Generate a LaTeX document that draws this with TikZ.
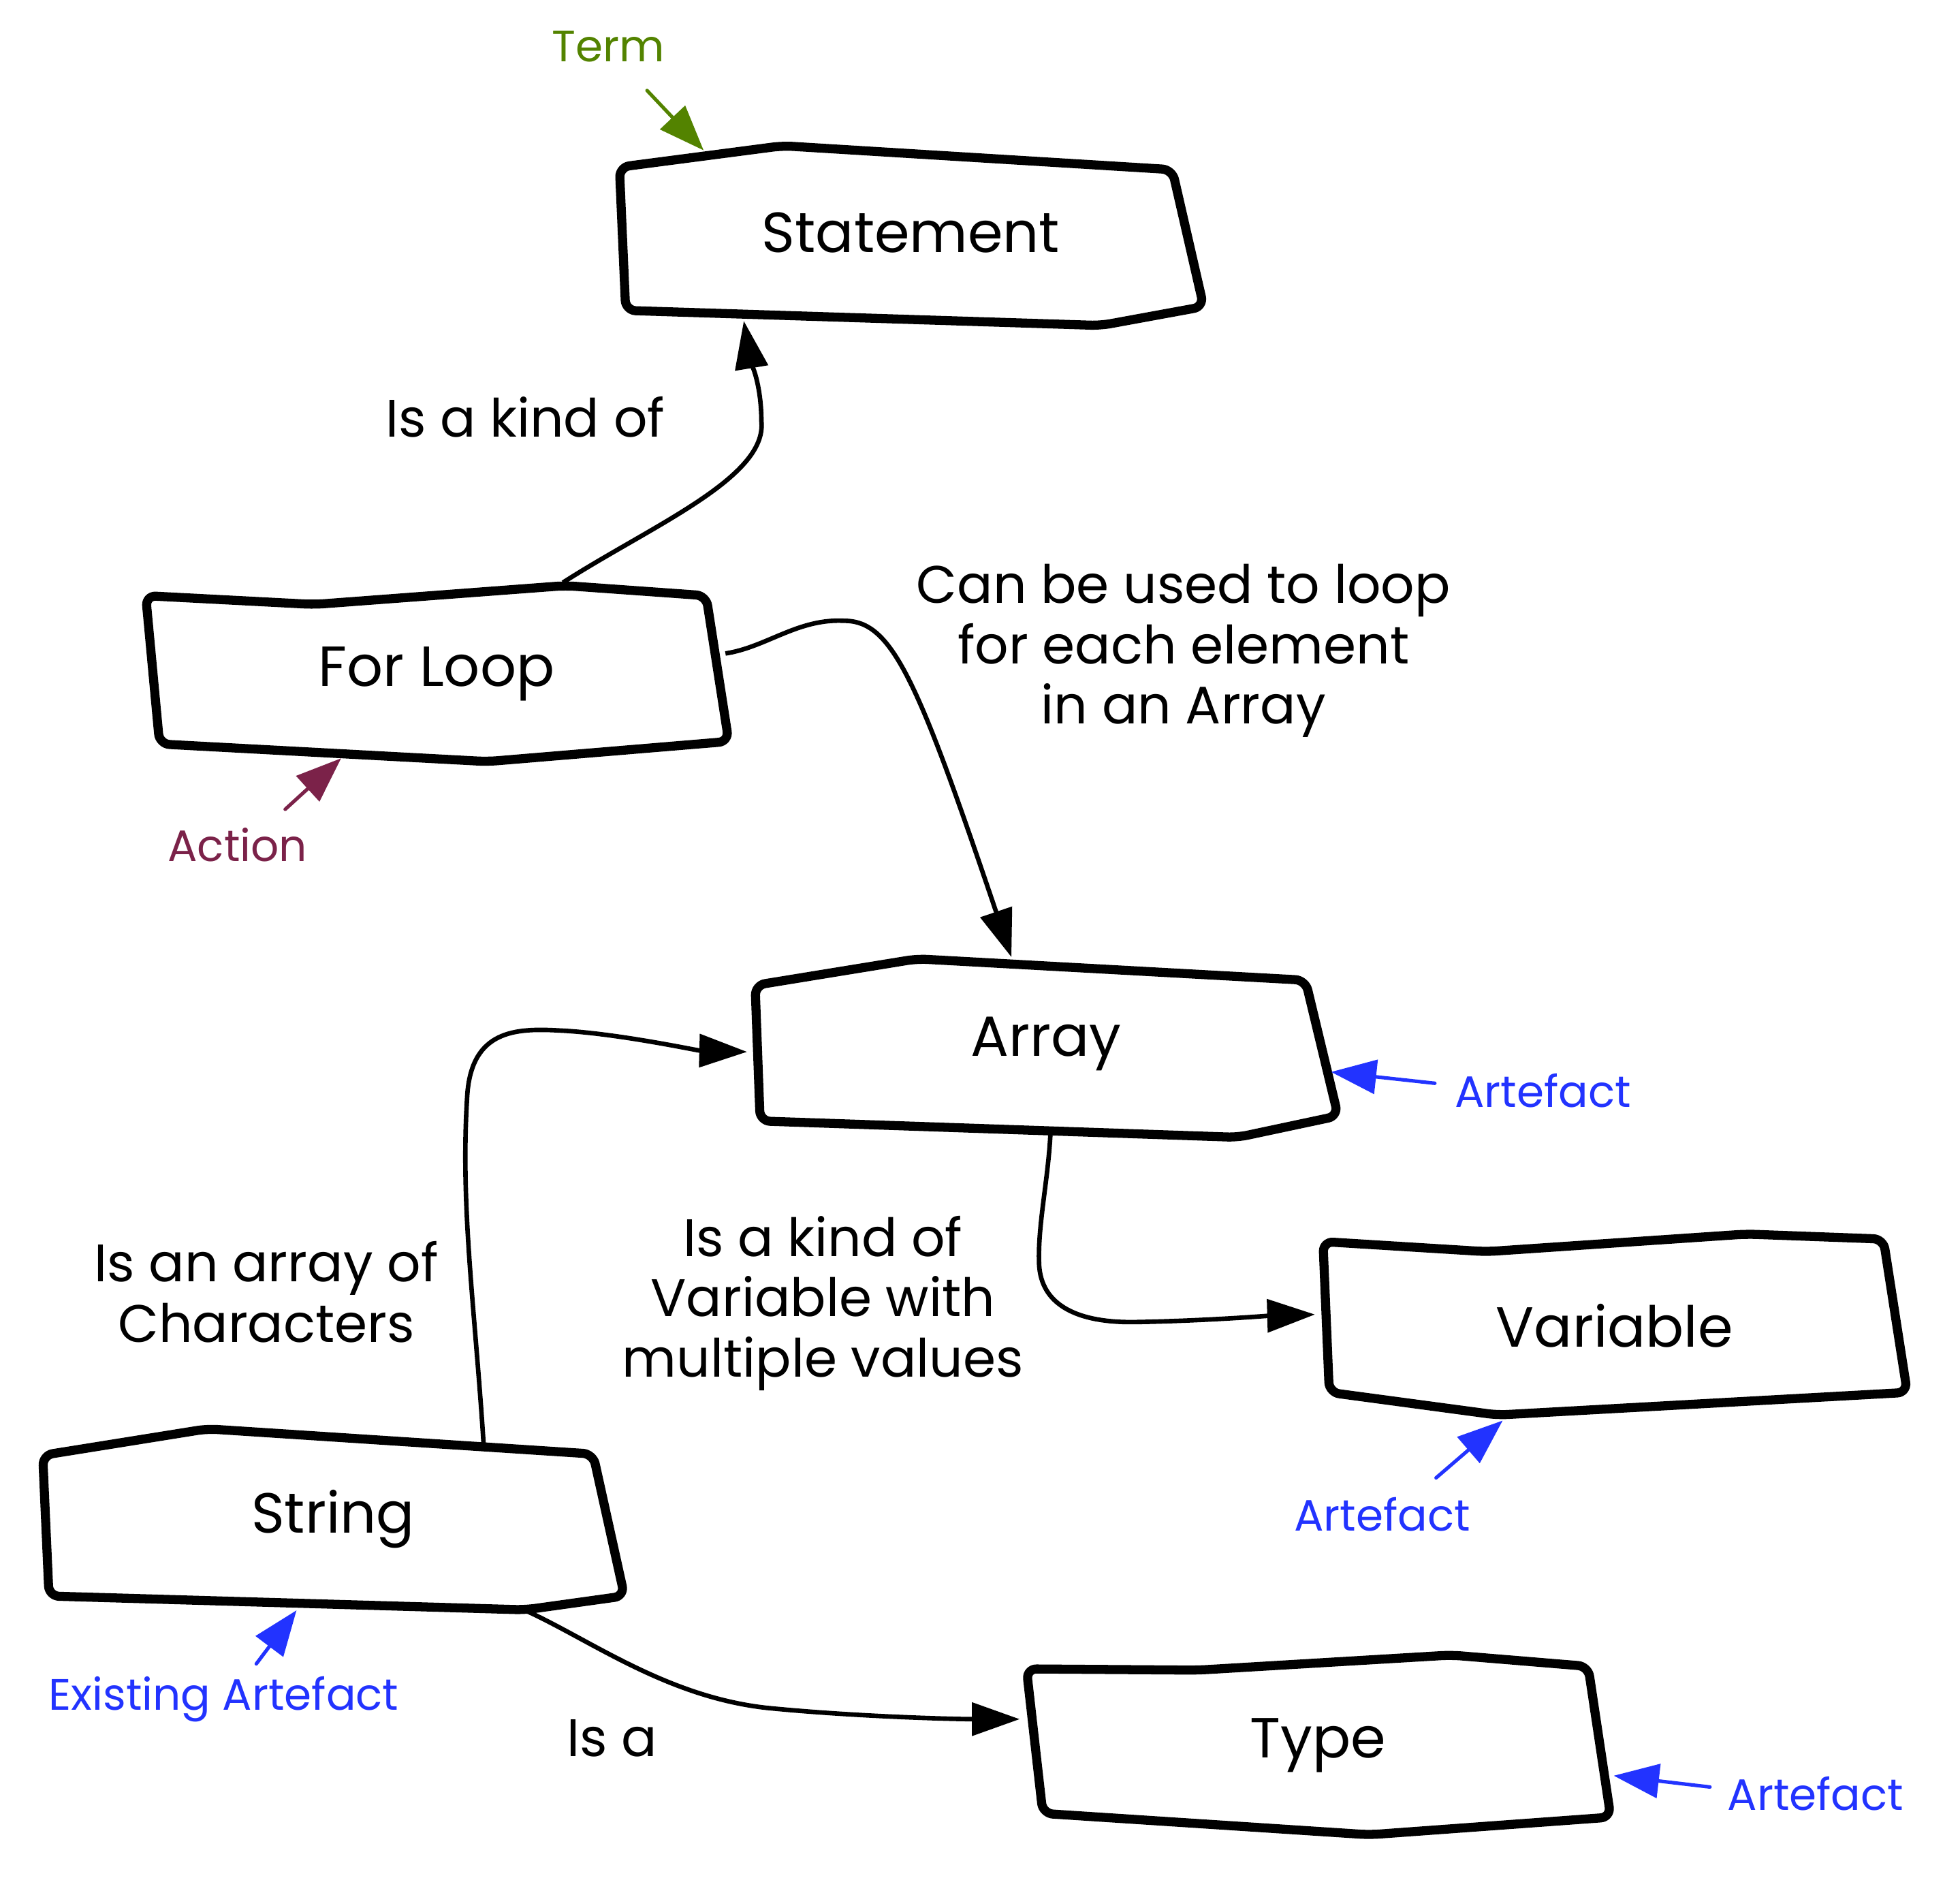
\documentclass[tikz,border=0pt]{standalone}
\usepackage{fontspec}
\setmainfont{Poppins}
\usetikzlibrary{arrows.meta}

\definecolor{termgreen}{HTML}{538300}
\definecolor{actionred}{HTML}{7B2249}
\definecolor{artblue}{HTML}{2233FF}

\begin{document}
\begin{tikzpicture}[x=0.5pt, y=-0.5pt,
    box/.style={black, line width=3.6pt, line join=round, rounded corners=4pt},
    concept/.style 2 args={minimum width=#1, minimum height=#2, inner sep=0pt,
        font=\fontsize{22.5}{27}\selectfont},
    link/.style={black, line width=1.8pt, -{Triangle[length=19pt, width=13pt]}},
    linklabel/.style={align=center, font=\fontsize{21}{24}\selectfont},
    tag/.style={font=\fontsize{17.5}{20}\selectfont},
    note/.style={line width=1.4pt, line cap=round, -{Triangle[length=18pt, width=13.5pt]}}]
    \useasboundingbox (0,0) rectangle (1560,1494);

    % Cajas
    \draw[box] (493,133) -- (623,116) -- (933,135) -- (958,244) -- (876,259) -- (498,247) -- cycle;
    \draw[box] (116,474) -- (250,481) -- (450,466) -- (562,474) -- (580,590) -- (388,606) -- (127,592) -- cycle;
    \draw[box] (601,784) -- (730,763) -- (1039,780) -- (1065,888) -- (985,905) -- (605,892) -- cycle;
    \draw[box] (1053,988) -- (1183,996) -- (1390,982) -- (1499,986) -- (1518,1108) -- (1192,1126) -- (1058,1108) -- cycle;
    \draw[box] (34,1158) -- (165,1137) -- (472,1157) -- (497,1270) -- (418,1281) -- (39,1270) -- cycle;
    \draw[box] (817,1328) -- (953,1329) -- (1155,1317) -- (1264,1326) -- (1282,1446) -- (1090,1460) -- (830,1443) -- cycle;

    % Conceptos
    \node[concept={233pt}{72pt}] (statement) at (725,185) {Statement};
    \node[concept={232.5pt}{71pt}] (forloop) at (347.5,536) {For Loop};
    \node[concept={232.5pt}{72.5pt}] (array) at (832.5,830.5) {Array};
    \node[concept={233pt}{73pt}] (variable) at (1285,1055) {Variable};
    \node[concept={232pt}{73pt}] (string) at (265,1209) {String};
    \node[concept={233pt}{73pt}] (type) at (1049,1389) {Type};

    % Relaciones
    \draw[link] ([shift={(100.5,-1)}]forloop.north) .. controls +(70,-45) and +(5,45) .. (606,335)
        .. controls +(0,-30) and +(5,30) .. ([shift={(-133,-2)}]statement.south);
    \node[linklabel] (kindof) at (418,332) {Is a kind of};

    \draw[link] ([shift={(-3,-16)}]forloop.east) .. controls (610,515) and (635,492) .. (672,494)
        .. controls (710,494) and (730,540) .. ([shift={(-27.5,4)}]array.north);
    \node[linklabel] (loopover) at (942,518) {Can be used to loop\\for each element\\in an Array};

    \draw[link] ([shift={(120,15)}]string.north) .. controls (378,1040) and (366,960) .. (372,870)
        .. controls (376,820) and (410,818) .. (445,820)
        .. controls (490,822) and (555,836) .. ([shift={(-5,6.5)}]array.west);
    \node[linklabel] (arrayof) at (212,1028) {Is an array of\\Characters};

    \draw[link] ([shift={(3.5,0)}]array.south) .. controls (834,940) and (826,975) .. (827,1005)
        .. controls (828,1040) and (860,1053) .. (905,1052)
        .. controls (960,1051) and (1010,1047) .. ([shift={(-5,-9)}]variable.west);
    \node[linklabel] (kindofvar) at (655,1037) {Is a kind of\\Variable with\\multiple values};

    \draw[link] ([shift={(153,-1)}]string.south) .. controls (470,1305) and (530,1350) .. (610,1359)
        .. controls (680,1366) and (760,1368) .. ([shift={(-4,-21)}]type.west);
    \node[linklabel] (isa) at (487,1383) {Is a};

    % Etiquetas de tipo
    \node[tag, termgreen] (termtag) at (484,37) {Term};
    \draw[note, termgreen] ([shift={(31,35)}]termtag.center) -- ([shift={(-165,7)}]statement.north);

    \node[tag, actionred] (actiontag) at (189,672) {Action};
    \draw[note, actionred] ([shift={(38,-28)}]actiontag.center) -- ([shift={(-76,-4)}]forloop.south);

    \node[tag, artblue] (arraytag) at (1228,868) {Artefact};
    \draw[note, artblue] ([shift={(-86,-6)}]arraytag.center) -- ([shift={(-6,22.5)}]array.east);

    \node[tag, artblue] (variabletag) at (1100,1205) {Artefact};
    \draw[note, artblue] ([shift={(43,-29)}]variabletag.center) -- ([shift={(-89,2)}]variable.south);

    \node[tag, artblue] (stringtag) at (178,1352) {Existing Artefact};
    \draw[note, artblue] ([shift={(26,-28)}]stringtag.center) -- ([shift={(-29,-1)}]string.south);

    \node[tag, artblue] (typetag) at (1445,1427) {Artefact};
    \draw[note, artblue] ([shift={(-84,-5)}]typetag.center) -- ([shift={(2,24)}]type.east);
\end{tikzpicture}
\end{document}
